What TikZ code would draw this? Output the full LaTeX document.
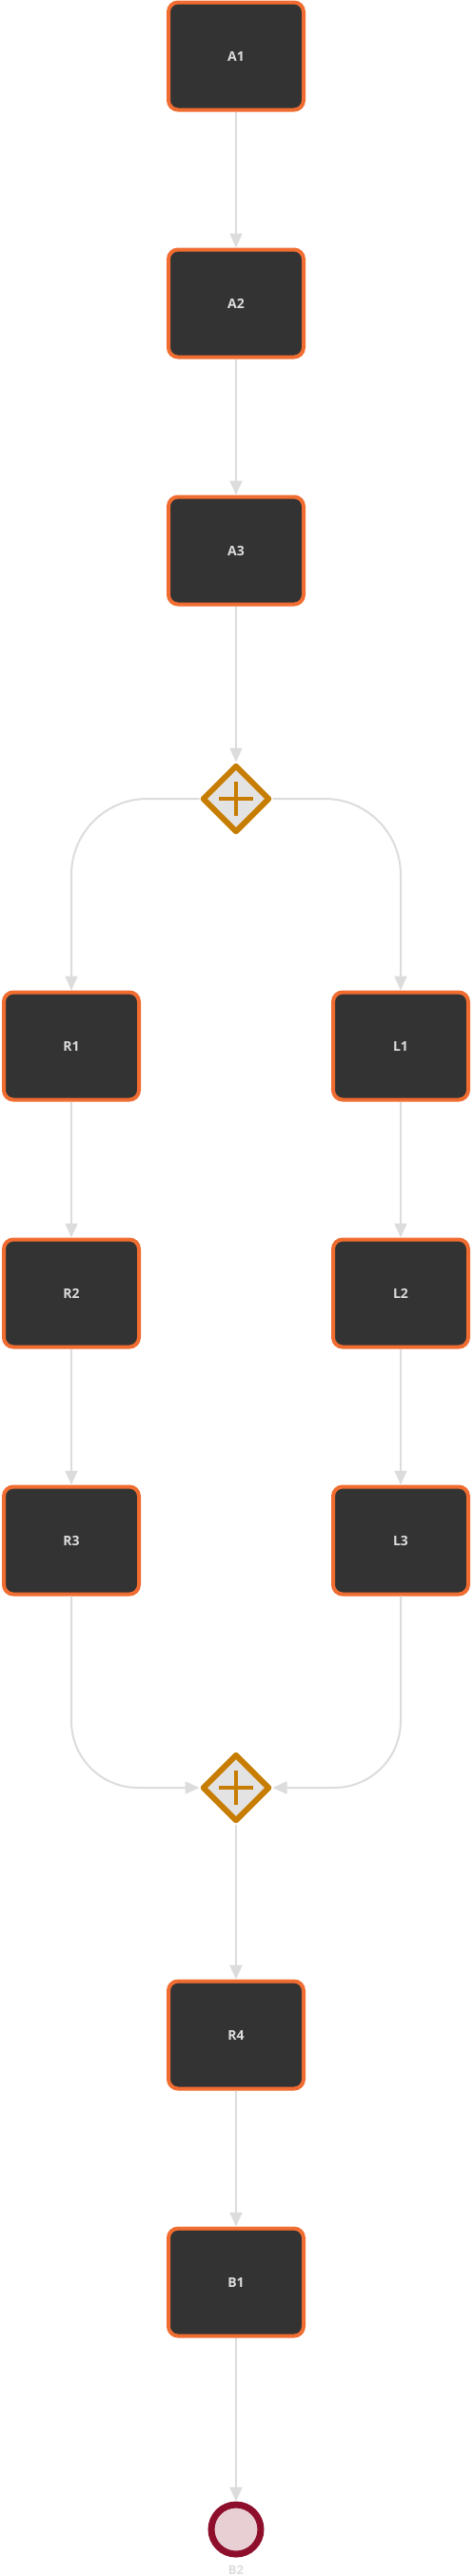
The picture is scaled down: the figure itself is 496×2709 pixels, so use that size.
\documentclass[tikz,border=0pt]{standalone}
\usepackage{fontspec}
\setmainfont{Open Sans}
\usetikzlibrary{shapes.geometric, arrows.meta}

\definecolor{taskfill}{HTML}{333333}
\definecolor{taskline}{HTML}{F06C30}
\definecolor{tasktext}{HTML}{DDDDDD}
\definecolor{flowline}{HTML}{DCDCDC}
\definecolor{gatefill}{HTML}{E3E3E3}
\definecolor{gateline}{HTML}{C77C02}
\definecolor{endfill}{HTML}{E8CFD4}
\definecolor{endline}{HTML}{8E0F2B}

\begin{document}
\begin{tikzpicture}[x=1pt, y=-1pt,
		task/.style={rectangle, rounded corners=10pt, draw=taskline, fill=taskfill, line width=4pt, minimum width=142pt, minimum height=113pt, text=tasktext, font=\fontsize{14}{16}\selectfont\bfseries},
		gateway/.style={diamond, draw=gateline, fill=gatefill, line width=6pt, line join=round, minimum width=71pt, minimum height=71pt, inner sep=0pt,
			path picture={\draw[gateline, line width=4pt] ([xshift=-18pt]path picture bounding box.center) -- ([xshift=18pt]path picture bounding box.center) ([yshift=-18pt]path picture bounding box.center) -- ([yshift=18pt]path picture bounding box.center);}},
		endevent/.style={circle, draw=endline, fill=endfill, line width=7pt, minimum size=52pt, inner sep=0pt},
		endtext/.style={text=tasktext, font=\fontsize{13}{15}\selectfont\bfseries, inner sep=0pt},
		flow/.style={draw=flowline, line width=2pt, -{Triangle[length=15pt, width=13pt]}}]
				
				\useasboundingbox (0,0) rectangle (496,2709);
				\fill[white] (0,0) rectangle (496,2709);
				
				\node[task] (A1) at (248,59) {A1};
				
				\node[task] (A2) at (248,319) {A2};
				
				\node[task] (A3) at (248,579) {A3};
				
				\node[gateway] (split) at (248,840) {};
				
				\node[task] (R1) at (75,1100) {R1};
				
				\node[task] (R2) at (75,1360) {R2};
				
				\node[task] (R3) at (75,1620) {R3};
				
				\node[task] (L1) at (421,1100) {L1};
				
				\node[task] (L2) at (421,1360) {L2};
				
				\node[task] (L3) at (421,1620) {L3};
				
				\node[gateway] (join) at (248,1880) {};
				
				\node[task] (R4) at (248,2140) {R4};
				
				\node[task] (B1) at (248,2400) {B1};
				
				\node[endevent] (B2) at (248,2660) {};
				
				\node[endtext, anchor=base] (B2text) at (248,2707.5) {B2};
				
				\draw[flow] (A1.south) -- (A2.north);
				
				\draw[flow] (A2.south) -- (A3.north);
				
				\draw[flow] (A3.south) -- (split.north);
				
				\draw[flow, rounded corners=80pt] (split.west) -| (R1.north);
				
				\draw[flow, rounded corners=80pt] (split.east) -| (L1.north);
				
				\draw[flow] (R1.south) -- (R2.north);
				
				\draw[flow] (R2.south) -- (R3.north);
				
				\draw[flow] (L1.south) -- (L2.north);
				
				\draw[flow] (L2.south) -- (L3.north);
				
				\draw[flow, rounded corners=70pt] (R3.south) |- (join.west);
				
				\draw[flow, rounded corners=70pt] (L3.south) |- (join.east);
				
				\draw[flow] (join.south) -- (R4.north);
				
				\draw[flow] (R4.south) -- (B1.north);
				
				\draw[flow] (B1.south) -- (B2.north);
				
\end{tikzpicture}
\end{document}
